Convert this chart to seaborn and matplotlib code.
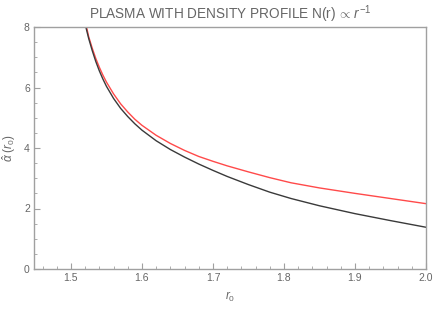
import matplotlib
matplotlib.use("Agg")
import matplotlib.pyplot as plt
import seaborn as sns
import pandas as pd
from matplotlib.ticker import MultipleLocator

# Data
r0_vacuum = [1.521, 1.525, 1.530, 1.535, 1.540, 1.545, 1.550, 1.560, 1.570,
             1.580, 1.590, 1.600, 1.620, 1.640, 1.660, 1.680, 1.700, 1.720,
             1.750, 1.780, 1.810, 1.850, 1.900, 1.950, 2.000]
alpha_vacuum = [8.00, 7.62, 7.22, 6.86, 6.55, 6.28, 6.04, 5.64, 5.31,
                5.04, 4.80, 4.59, 4.24, 3.95, 3.70, 3.47, 3.26, 3.06,
                2.79, 2.54, 2.33, 2.09, 1.83, 1.60, 1.38]

r0_plasma = [1.522, 1.525, 1.530, 1.535, 1.540, 1.545, 1.550, 1.560, 1.570,
             1.580, 1.590, 1.600, 1.620, 1.640, 1.660, 1.680, 1.700, 1.720,
             1.750, 1.780, 1.810, 1.850, 1.900, 1.950, 2.000]
alpha_plasma = [8.00, 7.68, 7.30, 6.96, 6.67, 6.41, 6.18, 5.79, 5.46,
                5.19, 4.95, 4.75, 4.42, 4.15, 3.92, 3.72, 3.56, 3.41,
                3.21, 3.02, 2.85, 2.68, 2.50, 2.33, 2.16]

x_ticks = [1.5, 1.6, 1.7, 1.8, 1.9, 2.0]
y_ticks = [0, 2, 4, 6, 8]

sns.set_style("white")
plt.rcParams["font.family"] = ["Liberation Sans", "DejaVu Sans"]
plt.rcParams["mathtext.fontset"] = "custom"
plt.rcParams["mathtext.it"] = "Liberation Sans:italic"
plt.rcParams["mathtext.rm"] = "Liberation Sans"

df = pd.concat([
    pd.DataFrame({"r0": r0_vacuum, "alpha": alpha_vacuum, "case": "vacuum"}),
    pd.DataFrame({"r0": r0_plasma, "alpha": alpha_plasma, "case": "plasma"}),
])

fig = plt.figure(figsize=(4.36, 3.14), dpi=100)
ax = fig.add_axes([34 / 436, 45 / 314, 392 / 436, 242 / 314])

sns.lineplot(data=df, x="r0", y="alpha", hue="case",
             palette={"vacuum": "#3a3a3a", "plasma": "#ff4a4a"},
             hue_order=["plasma", "vacuum"],
             linewidth=1.0, legend=False, ax=ax, sort=True, estimator=None)

ax.set_xlim(1.448, 2.0)
ax.set_ylim(0, 8)
ax.set_xticks(x_ticks)
ax.set_xticklabels([f"{t:.1f}" for t in x_ticks])
ax.set_yticks(y_ticks)
ax.set_yticklabels([str(t) for t in y_ticks])
ax.xaxis.set_minor_locator(MultipleLocator(0.02))
ax.yaxis.set_minor_locator(MultipleLocator(0.5))

gray = "#a0a0a0"
for s in ax.spines.values():
    s.set_color(gray)
    s.set_linewidth(1.0)
ax.tick_params(axis="both", which="major", direction="in", length=4, width=0.8,
               color=gray, labelcolor="#666666", labelsize=7.5, pad=3,
               top=False, right=False, bottom=True, left=True)
ax.tick_params(axis="both", which="minor", direction="in", length=2, width=0.6,
               color=gray, top=False, right=False, bottom=True, left=True)

ax.set_xlabel("$r_0$", color="#666666", fontsize=8.5, labelpad=5)
ax.set_ylabel(r"$\hat{\alpha}$ ($r_0$)", color="#666666", fontsize=8.5, labelpad=4)
ax.set_title(r"PLASMA WITH DENSITY PROFILE N(r)$\,\propto\,r^{-1}$",
             color="#666666", fontsize=9.8, pad=6)

fig.savefig("out.png", dpi=100)
